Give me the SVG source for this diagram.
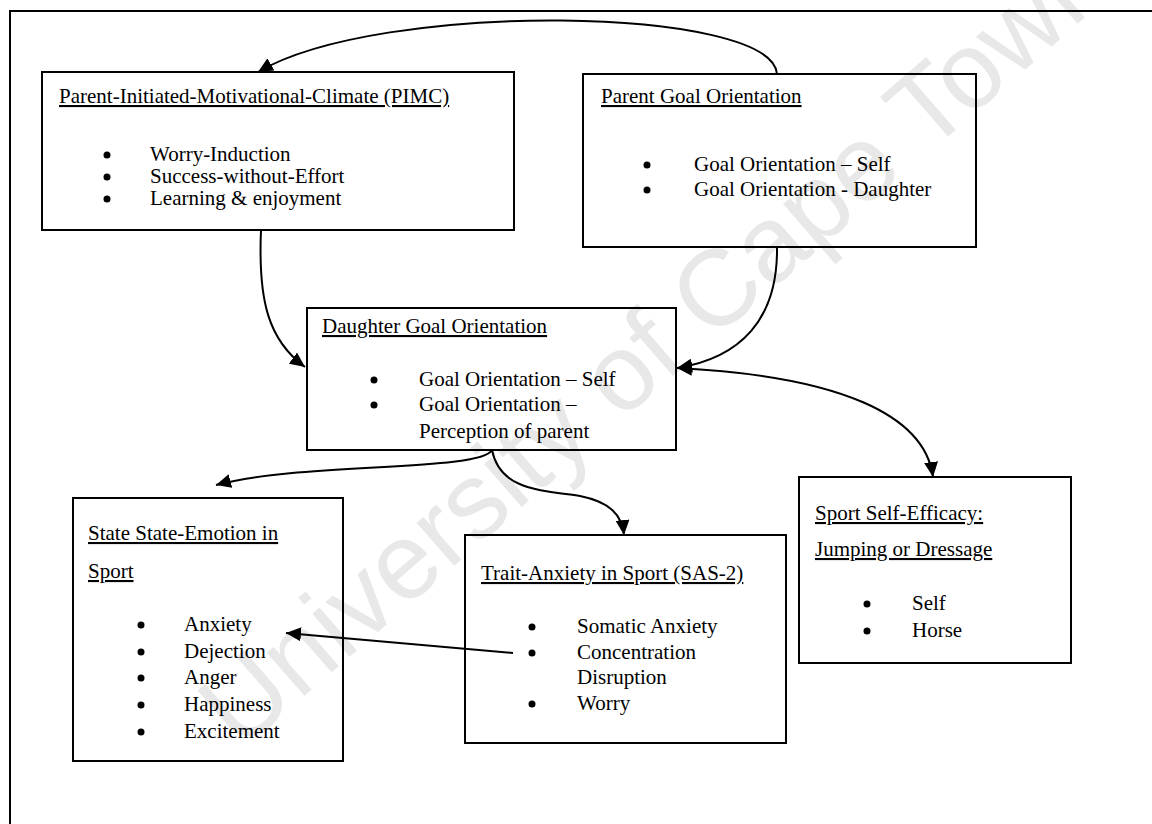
<svg xmlns="http://www.w3.org/2000/svg" width="1152" height="824" viewBox="0 0 1152 824">
<style>
.box{fill:none;stroke:#000;stroke-width:2}
.t{font-family:"Liberation Serif","Times New Roman",serif;font-size:21px;fill:#000}
.u{text-decoration:underline}
.conn{fill:none;stroke:#000;stroke-width:2}
.wm{font-family:"Liberation Sans",Arial,sans-serif;font-size:108px;fill:#e8e8e8}
</style>
<defs>
<marker id="ah" markerUnits="userSpaceOnUse" markerWidth="16" markerHeight="14" refX="15" refY="7" orient="auto-start-reverse">
<path d="M0,0 L15,7 L0,14 z" fill="#000"/>
</marker>
</defs>
<rect width="1152" height="824" fill="#fff"/>
<text class="wm" transform="translate(240,752) rotate(-41)">University of Cape Town</text>
<path d="M10,824 L10,11 L1152,11" fill="none" stroke="#000" stroke-width="2"/>

<g id="pimc">
<rect class="box" x="42" y="72" width="472" height="158"/>
<text class="t u" x="59" y="103">Parent-Initiated-Motivational-Climate (PIMC)</text>
<circle cx="107" cy="155" r="3.5"/><text class="t" x="150" y="161">Worry-Induction</text>
<circle cx="107" cy="177" r="3.5"/><text class="t" x="150" y="183">Success-without-Effort</text>
<circle cx="107" cy="199" r="3.5"/><text class="t" x="150" y="205">Learning &amp; enjoyment</text>
</g>

<g id="parent">
<rect class="box" x="583" y="74" width="393" height="173"/>
<text class="t u" x="601" y="103">Parent Goal Orientation</text>
<circle cx="647" cy="165" r="3.5"/><text class="t" x="694" y="171">Goal Orientation – Self</text>
<circle cx="647" cy="190" r="3.5"/><text class="t" x="694" y="196">Goal Orientation - Daughter</text>
</g>

<g id="daughter">
<rect class="box" x="307" y="308" width="369" height="142"/>
<text class="t u" x="322" y="333">Daughter Goal Orientation</text>
<circle cx="374" cy="380" r="3.5"/><text class="t" x="419" y="386">Goal Orientation – Self</text>
<circle cx="374" cy="405" r="3.5"/><text class="t" x="419" y="411">Goal Orientation –</text>
<text class="t" x="419" y="438">Perception of parent</text>
</g>

<g id="state">
<rect class="box" x="73" y="498" width="270" height="263"/>
<text class="t u" x="88" y="540">State State-Emotion in</text>
<text class="t u" x="88" y="578">Sport</text>
<circle cx="141" cy="625" r="3.5"/><text class="t" x="184" y="631">Anxiety</text>
<circle cx="141" cy="652" r="3.5"/><text class="t" x="184" y="658">Dejection</text>
<circle cx="141" cy="678" r="3.5"/><text class="t" x="184" y="684">Anger</text>
<circle cx="141" cy="705" r="3.5"/><text class="t" x="184" y="711">Happiness</text>
<circle cx="141" cy="732" r="3.5"/><text class="t" x="184" y="738">Excitement</text>
</g>

<g id="trait">
<rect class="box" x="465" y="535" width="321" height="208"/>
<text class="t u" x="481" y="580">Trait-Anxiety in Sport (SAS-2)</text>
<circle cx="532" cy="627" r="3.5"/><text class="t" x="577" y="633">Somatic Anxiety</text>
<circle cx="532" cy="653" r="3.5"/><text class="t" x="577" y="659">Concentration</text>
<text class="t" x="577" y="684">Disruption</text>
<circle cx="532" cy="704" r="3.5"/><text class="t" x="577" y="710">Worry</text>
</g>

<g id="efficacy">
<rect class="box" x="799" y="477" width="272" height="186"/>
<text class="t u" x="815" y="520">Sport Self-Efficacy:</text>
<text class="t u" x="815" y="556">Jumping or Dressage</text>
<circle cx="867" cy="604" r="3.5"/><text class="t" x="912" y="610">Self</text>
<circle cx="867" cy="631" r="3.5"/><text class="t" x="912" y="637">Horse</text>
</g>

<g id="connectors">
<path class="conn" d="M777,74 C772,6 380,0 258,72" marker-end="url(#ah)"/>
<path class="conn" d="M261,230 C258,300 268,340 305,367" marker-end="url(#ah)"/>
<path class="conn" d="M777,247 C778,320 740,358 677,368" marker-end="url(#ah)"/>
<path class="conn" d="M677,368 C840,376 925,415 933,477" marker-start="url(#ah)" marker-end="url(#ah)"/>
<path class="conn" d="M492,450 C480,472 300,462 216,485" marker-end="url(#ah)"/>
<path class="conn" d="M492,450 C500,490 540,490 580,496 C610,502 622,515 624,535" marker-end="url(#ah)"/>
<path class="conn" d="M513,653 L286,633" marker-end="url(#ah)"/>
</g>
</svg>
